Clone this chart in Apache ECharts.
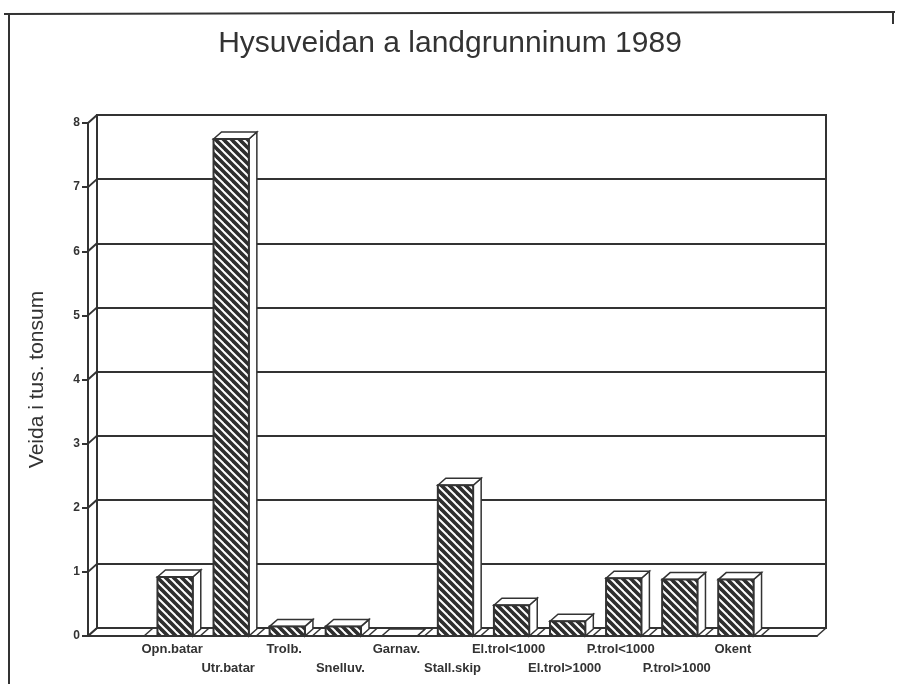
<!DOCTYPE html>
<html>
<head>
<meta charset="utf-8">
<script src="https://cdn.jsdelivr.net/npm/echarts@6/dist/echarts.min.js"></script>
<style>
html, body { margin: 0; padding: 0; background: #fff; }
#container { width: 900px; height: 684px; }
</style>
</head>
<body>
<div id="container"></div>
<script>
var dom = document.getElementById("container");
var myChart = echarts.init(dom);

// empty slot at each end, like the original layout
var categories = ['', 'Opn.batar', 'Utr.batar', 'Trolb.', 'Snelluv.', 'Garnav.', 'Stall.skip',
    'El.trol<1000', 'El.trol>1000', 'P.trol<1000', 'P.trol>1000', 'Okent', ''];
var catchValues = [null, 0.92, 7.75, 0.15, 0.15, 0, 2.35, 0.48, 0.23, 0.9, 0.88, 0.88, null];
var yTicks = [0, 1, 2, 3, 4, 5, 6, 7, 8];

var INK = '#333';
var DX = 9, DY = 8;   // 3d depth offset

// hatch pattern for the bar fronts
var hatch = document.createElement('canvas');
hatch.width = 8;
hatch.height = 8;
var hctx = hatch.getContext('2d');
hctx.fillStyle = '#2e2e2e';
hctx.fillRect(0, 0, 8, 8);
hctx.strokeStyle = '#fff';
hctx.lineWidth = 2;
[-8, 0, 8].forEach(function (x0) {
    hctx.beginPath();
    hctx.moveTo(x0 - 1, -1);
    hctx.lineTo(x0 + 9, 9);
    hctx.stroke();
});

var barData = [];
catchValues.forEach(function (v, i) {
    if (v !== null) barData.push([i, v]);
});

function renderBar(params, api) {
    var top = api.coord([api.value(0), api.value(1)]);
    var base = api.coord([api.value(0), 0]);
    var w = api.size([1, 0])[0] * 0.63;
    var x0 = top[0] - w / 2 + 3, x1 = top[0] + w / 2 + 3;
    var yt = top[1], yb = base[1];
    var dx = 8, dy = 7;
    var line = { fill: '#fff', stroke: INK, lineWidth: 1.5 };
    return {
        type: 'group',
        children: [
            { type: 'polygon', shape: { points: [[x1, yt], [x1 + dx, yt - dy], [x1 + dx, yb - dy], [x1, yb]] }, style: line },
            { type: 'polygon', shape: { points: [[x0, yt], [x0 + dx, yt - dy], [x1 + dx, yt - dy], [x1, yt]] }, style: line },
            { type: 'rect', shape: { x: x0, y: yt, width: w, height: yb - yt },
              style: { fill: { image: hatch, repeat: 'repeat' }, stroke: INK, lineWidth: 2 } }
        ]
    };
}

function renderFrame(params, api) {
    var cs = params.coordSys;
    var xl = cs.x;
    var bw = api.size([1, 0])[0];
    var y0 = api.coord([0, 0])[1];
    var kids = [];
    var st = { stroke: INK, lineWidth: 2 };
    yTicks.forEach(function (v) {
        var y = api.coord([0, v])[1];
        kids.push({ type: 'line', shape: { x1: xl, y1: y, x2: xl + DX, y2: y - DY }, style: st });
    });
    for (var i = 0; i <= categories.length; i++) {
        var xb = xl + i * bw;
        kids.push({ type: 'line', shape: { x1: xb, y1: y0, x2: xb + DX, y2: y0 - DY },
            style: { stroke: INK, lineWidth: 1.5 } });
    }
    return { type: 'group', children: kids };
}

var option = {
    animation: false,
    backgroundColor: '#fff',
    textStyle: { fontFamily: 'Liberation Sans, Arial, sans-serif' },
    title: {
        text: 'Hysuveidan a landgrunninum 1989',
        left: 'center',
        top: 24,
        textStyle: { fontSize: 30, fontWeight: 'normal', color: INK, fontFamily: 'Liberation Sans' }
    },
    graphic: [
        { type: 'line', shape: { x1: 9, y1: 14, x2: 9, y2: 684 }, style: { stroke: INK, lineWidth: 2 } },
        { type: 'line', shape: { x1: 4, y1: 14, x2: 895, y2: 12 }, style: { stroke: INK, lineWidth: 2 } },
        { type: 'line', shape: { x1: 893, y1: 12, x2: 893, y2: 24 }, style: { stroke: INK, lineWidth: 2 } }
    ],
    grid: [
        { left: 88, right: 83, top: 123, bottom: 48 },
        { left: 88 + DX, right: 83 - DX, top: 123 - DY, bottom: 48 + DY,
          show: true, borderColor: INK, borderWidth: 2, backgroundColor: 'transparent' }
    ],
    xAxis: [{
        gridIndex: 0,
        type: 'category',
        data: categories,
        axisLine: { lineStyle: { color: INK, width: 2 } },
        axisTick: { length: 8, lineStyle: { color: INK, width: 1.5 } },
        axisLabel: {
            interval: 0,
            color: INK,
            fontSize: 13,
            fontWeight: 'bold',
            lineHeight: 19,
            margin: 4,
            formatter: function (value, index) {
                return index % 2 === 1 ? value : '\n' + value;
            }
        }
    }, {
        gridIndex: 1,
        type: 'category',
        data: categories,
        show: false
    }],
    yAxis: [{
        gridIndex: 0,
        type: 'value',
        min: 0,
        max: 8,
        interval: 1,
        name: 'Veida i tus. tonsum',
        nameLocation: 'middle',
        nameGap: 40,
        nameTextStyle: { fontSize: 21, color: INK },
        axisLine: { show: true, lineStyle: { color: INK, width: 2 } },
        axisTick: { show: true, length: 6, lineStyle: { color: INK, width: 2 } },
        axisLabel: { color: INK, fontSize: 12, fontWeight: 'bold', margin: 8 },
        splitLine: { show: false }
    }, {
        gridIndex: 1,
        type: 'value',
        min: 0,
        max: 8,
        interval: 1,
        axisLine: { show: false },
        axisTick: { show: false },
        axisLabel: { show: false },
        splitLine: { show: true, lineStyle: { color: INK, width: 2 } }
    }],
    series: [{
        type: 'custom',
        name: 'frame',
        xAxisIndex: 0,
        yAxisIndex: 0,
        renderItem: renderFrame,
        data: [[0, 0]],
        silent: true,
        z: 1
    }, {
        type: 'custom',
        name: 'Veida',
        xAxisIndex: 0,
        yAxisIndex: 0,
        renderItem: renderBar,
        data: barData,
        z: 3
    }]
};

myChart.setOption(option);
</script>
</body>
</html>
